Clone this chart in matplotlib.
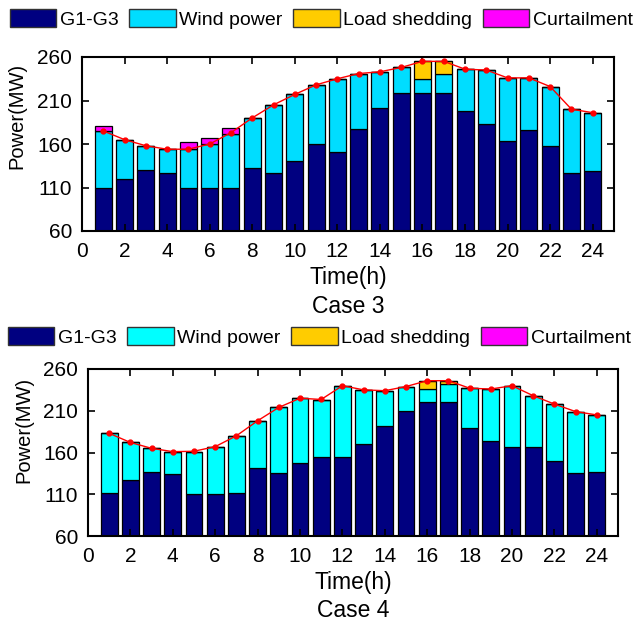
import matplotlib
matplotlib.use("Agg")
import matplotlib.pyplot as plt
import numpy as np

plt.rcParams['font.family'] = ['Liberation Sans', 'DejaVu Sans']

hours = list(range(1, 25))
x_ticks = list(range(0, 25, 2))
y_ticks = [60, 110, 160, 210, 260]

# Case 3
g1_c3 = [110, 120, 130, 127, 110, 110, 110, 132, 127, 140, 160, 151,
         177, 201, 219, 219, 219, 198, 183, 163, 176, 158, 127, 129]
wind_c3 = [65, 45, 28, 27, 44, 50, 62, 58, 78, 77, 68, 84,
           64, 42, 29, 16, 21, 48, 62, 73, 60, 68, 73, 67]
shed_c3 = [0, 0, 0, 0, 0, 0, 0, 0, 0, 0, 0, 0,
           0, 0, 0, 20, 15, 0, 0, 0, 0, 0, 0, 0]
curt_c3 = [5.5, 0, 0, 0, 8, 7, 6.5, 0, 0, 0, 0, 0,
           0, 0, 0, 0, 0, 0, 0, 0, 0, 0, 0, 0]
load_c3 = [175, 165, 158, 154, 154, 160, 173, 190, 205, 217, 228, 235,
           241, 243, 248, 255, 255, 246, 245, 236, 236, 226, 200, 196]

# Case 4
g1_c4 = [111, 127, 137, 134, 110, 110, 111, 141, 135, 148, 155, 155,
         170, 192, 210, 220, 220, 189, 174, 166, 167, 150, 136, 137]
wind_c4 = [72, 45, 28, 27, 51, 57, 69, 57, 79, 77, 68, 85,
           65, 42, 29, 16, 21.5, 48, 62, 74, 61, 68, 73, 67.5]
shed_c4 = [0, 0, 0, 0, 0, 0, 0, 0, 0, 0, 0, 0,
           0, 0, 0, 10, 4.5, 0, 0, 0, 0, 0, 0, 0]
curt_c4 = [0] * 24
load_c4 = [183, 172, 165, 161, 161.5, 167, 180, 198, 214, 225, 223.5, 240,
           235, 234, 239, 246, 246, 237, 236, 240, 228, 218, 209, 205]

labels = ['G1-G3', 'Wind power', 'Load shedding', 'Curtailment']

W, H = 635, 621
fig = plt.figure(figsize=(W / 100, H / 100), dpi=100)

def fx(px):
    return px / W

def fy(py):
    return 1 - py / H

TICK_FS = 15
LEG_FS = 14
LAB_FS = 16.5

def draw(ax_rect, g1, wind, shed, curt, load, wind_color, case_name,
         leg_anchor, xlab_base, case_base, ylab_pos):
    l, r, t, b = ax_rect
    ax = fig.add_axes([fx(l), fy(b), fx(r - l), (b - t) / H])
    g1 = np.array(g1, float)
    wind = np.array(wind, float)
    shed = np.array(shed, float)
    curt = np.array(curt, float)
    kw = dict(width=0.8, edgecolor='black', linewidth=0.9)
    h1 = ax.bar(hours, g1, bottom=0, color='#000080', **kw)
    h2 = ax.bar(hours, wind, bottom=g1, color=wind_color, **kw)
    h3 = ax.bar(hours, shed, bottom=g1 + wind, color='#FFCC00', **kw)
    h4 = ax.bar(hours, curt, bottom=g1 + wind + shed, color='#FF00FF', **kw)
    ax.plot(hours, load, color='red', lw=1.0, marker='o', ms=3.5,
            markerfacecolor='red', markeredgecolor='red', zorder=5)
    ax.set_xlim(0, 25)
    ax.set_ylim(60, 260)
    ax.set_xticks(x_ticks)
    ax.set_yticks(y_ticks)
    ax.tick_params(direction='in', length=5, width=1.2, top=True, right=True,
                   labelsize=TICK_FS)
    ax.tick_params(axis='x', pad=8)
    ax.tick_params(axis='y', pad=7)
    for s in ax.spines.values():
        s.set_linewidth(1.5)
    ax.set_ylabel('Power(MW)', fontsize=14.5)
    ax.yaxis.set_label_coords(*ylab_pos)
    cx = fx((l + r) / 2)
    fig.text(cx, fy(xlab_base), 'Time(h)', fontsize=LAB_FS, ha='center', va='baseline')
    fig.text(cx, fy(case_base), case_name, fontsize=LAB_FS, ha='center', va='baseline')
    leg = fig.legend([h1, h2, h3, h4], labels, loc='upper left',
                     bbox_to_anchor=leg_anchor, ncol=4, frameon=False,
                     fontsize=LEG_FS, handlelength=2.37, handleheight=1.03,
                     handletextpad=0.2, columnspacing=0.55, borderpad=0,
                     borderaxespad=0)
    for p in leg.get_patches():
        p.set_edgecolor('#333333')
        p.set_linewidth(1.0)
    return ax

draw((82, 614, 57, 231), g1_c3, wind_c3, shed_c3, curt_c3, load_c3, '#00DDFF',
     'Case 3', (fx(10), fy(9)), 284, 313, (-0.105, 0.66))
draw((88, 618, 369, 536), g1_c4, wind_c4, shed_c4, curt_c4, load_c4, '#00FFFF',
     'Case 4', (fx(8), fy(327)), 589, 617, (-0.104, 0.635))

fig.savefig('out.png', dpi=100)
